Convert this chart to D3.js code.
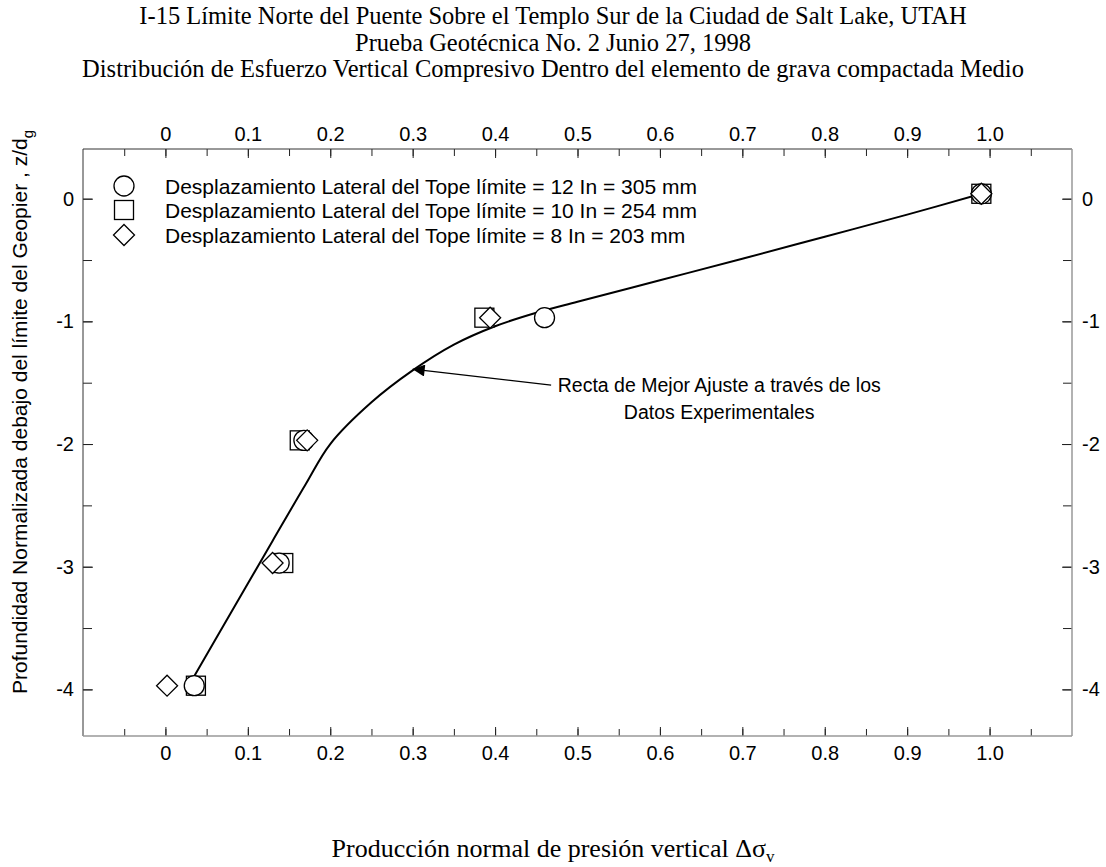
<!DOCTYPE html>
<html>
<head>
<meta charset="utf-8">
<script src="https://cdn.jsdelivr.net/npm/d3@7"></script>
<style>
  html, body { margin: 0; padding: 0; background: #fff; }
  svg { display: block; }
</style>
</head>
<body>
<svg id="chart" width="1106" height="867"></svg>
<script>
// ---- data ----
const titleLines = [
  "I-15 Límite Norte del Puente Sobre el Templo Sur de la Ciudad de Salt Lake, UTAH",
  "Prueba Geotécnica No. 2 Junio 27, 1998",
  "Distribución de Esfuerzo Vertical Compresivo Dentro del elemento de grava compactada Medio"
];
const depthY = [0.04, -0.97, -1.97, -2.97, -3.97];
const circleX = [0.99, 0.46, 0.168, 0.138, 0.035];   // 12 In = 305 mm
const squareX = [0.99, 0.387, 0.163, 0.143, 0.037];  // 10 In = 254 mm
const diamondX = [0.99, 0.394, 0.172, 0.13, 0.002];  // 8 In = 203 mm
const legendLabels = [
  "Desplazamiento Lateral del Tope límite = 12 In = 305 mm",
  "Desplazamiento Lateral del Tope límite = 10 In = 254 mm",
  "Desplazamiento Lateral del Tope límite = 8 In = 203 mm"
];
const fitX = [0.03, 0.08, 0.13, 0.17, 0.2, 0.25, 0.3, 0.35, 0.4, 0.45, 0.5, 0.6, 0.7, 0.8, 0.9, 0.99];
const fitY = [-3.95, -3.37, -2.79, -2.33, -2.0, -1.66, -1.40, -1.19, -1.04, -0.93, -0.84, -0.665, -0.49, -0.31, -0.13, 0.04];
const xTicks = [0, 0.1, 0.2, 0.3, 0.4, 0.5, 0.6, 0.7, 0.8, 0.9, 1.0];
const xTickLabels = ["0", "0.1", "0.2", "0.3", "0.4", "0.5", "0.6", "0.7", "0.8", "0.9", "1.0"];
const yTicks = [0, -1, -2, -3, -4];
const yTickLabels = ["0", "-1", "-2", "-3", "-4"];
const annotationLines = ["Recta de Mejor Ajuste a través de los", "Datos Experimentales"];
const arrowTip = [0.30, -1.39];
const arrowTail = [0.468, -1.52];
const annotationPos = [0.672, -1.52];

// ---- layout ----
const svg = d3.select("#chart");
const L = 83, R = 1072, T = 149, B = 736;
const x = d3.scaleLinear().domain([-0.1, 1.1]).range([L, R]);
const y = d3.scaleLinear().domain([-4.38, 0.405]).range([B, T]);
const sans = "Arial, 'Liberation Sans', Helvetica, sans-serif";
const serif = "'Times New Roman', 'Liberation Serif', Times, serif";

// title
svg.append("g").selectAll("text").data(titleLines).join("text")
  .attr("x", 553).attr("y", (d, i) => 24 + i * 26.5)
  .attr("text-anchor", "middle")
  .style("font-family", serif).style("font-size", "24.5px").attr("fill", "#000")
  .text(d => d);

// axes
const minorX = d3.range(-0.05, 1.1, 0.05).map(v => +v.toFixed(2));
const minorY = d3.range(0, -4.5, -0.5).map(v => +v.toFixed(1));

function styleAxis(g) {
  g.select(".domain").remove();
  g.selectAll("text").style("font-family", sans).style("font-size", "20px").attr("fill", "#000");
  g.selectAll("line").attr("stroke", "#222").attr("stroke-width", 1);
}
// minor ticks
svg.append("g").attr("transform", `translate(0,${B})`)
  .call(d3.axisBottom(x).tickValues(minorX).tickSize(-7).tickFormat(""))
  .call(styleAxis);
svg.append("g").attr("transform", `translate(0,${T})`)
  .call(d3.axisTop(x).tickValues(minorX).tickSize(-7).tickFormat(""))
  .call(styleAxis);
svg.append("g").attr("transform", `translate(${L},0)`)
  .call(d3.axisLeft(y).tickValues(minorY).tickSize(-9).tickFormat(""))
  .call(styleAxis);
svg.append("g").attr("transform", `translate(${R},0)`)
  .call(d3.axisRight(y).tickValues(minorY).tickSize(-9).tickFormat(""))
  .call(styleAxis);
// major ticks with labels
svg.append("g").attr("transform", `translate(0,${B})`)
  .call(d3.axisBottom(x).tickValues(xTicks).tickSize(-9).tickPadding(10)
    .tickFormat((d, i) => xTickLabels[i]))
  .call(styleAxis);
svg.append("g").attr("transform", `translate(0,${T})`)
  .call(d3.axisTop(x).tickValues(xTicks).tickSize(-9).tickPadding(8)
    .tickFormat((d, i) => xTickLabels[i]))
  .call(styleAxis);
svg.append("g").attr("transform", `translate(${L},0)`)
  .call(d3.axisLeft(y).tickValues(yTicks).tickSize(-10).tickPadding(9)
    .tickFormat((d, i) => yTickLabels[i]))
  .call(styleAxis);
svg.append("g").attr("transform", `translate(${R},0)`)
  .call(d3.axisRight(y).tickValues(yTicks).tickSize(-10).tickPadding(10)
    .tickFormat((d, i) => yTickLabels[i]))
  .call(styleAxis);

// frame
svg.append("line").attr("x1", L).attr("x2", R).attr("y1", T).attr("y2", T).attr("stroke", "#333");
svg.append("line").attr("x1", L).attr("x2", L).attr("y1", T).attr("y2", B).attr("stroke", "#333");
svg.append("line").attr("x1", L).attr("x2", R).attr("y1", B).attr("y2", B).attr("stroke", "#999").attr("stroke-width", 1.5);
svg.append("line").attr("x1", R).attr("x2", R).attr("y1", T).attr("y2", B).attr("stroke", "#999").attr("stroke-width", 1.5);

// fit curve
const fit = fitX.map((v, i) => [v, fitY[i]]);
svg.append("path").datum(fit)
  .attr("d", d3.line().x(d => x(d[0])).y(d => y(d[1])).curve(d3.curveCatmullRom.alpha(0.5)))
  .attr("fill", "none").attr("stroke", "#000").attr("stroke-width", 2);

// markers
const symSquare = (g, cx, cy) => g.append("rect").attr("x", cx - 9.5).attr("y", cy - 9.5)
  .attr("width", 19).attr("height", 19);
const symCircle = (g, cx, cy) => g.append("circle").attr("cx", cx).attr("cy", cy).attr("r", 10);
const symDiamond = (g, cx, cy) => g.append("path")
  .attr("d", `M${cx},${cy - 10.5}L${cx + 10.5},${cy}L${cx},${cy + 10.5}L${cx - 10.5},${cy}Z`);

const marks = svg.append("g").attr("fill", "#fff").attr("stroke", "#000").attr("stroke-width", 1.3);
squareX.forEach((v, i) => symSquare(marks, x(v), y(depthY[i])));
circleX.forEach((v, i) => symCircle(marks, x(v), y(depthY[i])));
diamondX.forEach((v, i) => symDiamond(marks, x(v), y(depthY[i])));

// legend
const leg = svg.append("g");
const legY = [186, 210, 235];
const lm = leg.append("g").attr("fill", "#fff").attr("stroke", "#000").attr("stroke-width", 1.3);
symCircle(lm, 124, legY[0]);
symSquare(lm, 124, legY[1]);
symDiamond(lm, 124, legY[2]);
leg.selectAll("text").data(legendLabels).join("text")
  .attr("x", 165).attr("y", (d, i) => legY[i] + 7.5)
  .style("font-family", sans).style("font-size", "21px").attr("fill", "#000")
  .text(d => d);

// annotation arrow
const defs = svg.append("defs");
defs.append("marker").attr("id", "arr").attr("viewBox", "0 0 10 10")
  .attr("refX", 10).attr("refY", 5).attr("markerWidth", 20).attr("markerHeight", 12)
  .attr("markerUnits", "userSpaceOnUse").attr("orient", "auto")
  .append("path").attr("d", "M0,0L10,5L0,10Z").attr("fill", "#000");
svg.append("line")
  .attr("x1", x(arrowTail[0])).attr("y1", y(arrowTail[1]))
  .attr("x2", x(arrowTip[0])).attr("y2", y(arrowTip[1]))
  .attr("stroke", "#000").attr("stroke-width", 1.2).attr("marker-end", "url(#arr)");
svg.append("g").selectAll("text").data(annotationLines).join("text")
  .attr("x", x(annotationPos[0])).attr("y", (d, i) => y(annotationPos[1]) + 7 + i * 27)
  .attr("text-anchor", "middle")
  .style("font-family", sans).style("font-size", "19.5px").attr("fill", "#000")
  .text(d => d);

// y axis label
const yl = svg.append("text")
  .attr("transform", `translate(27,412) rotate(-90)`)
  .attr("text-anchor", "middle")
  .style("font-family", sans).style("font-size", "21px").attr("fill", "#000");
yl.append("tspan").text("Profundidad Normalizada debajo del límite del Geopier , z/d");
yl.append("tspan").attr("dy", 6).style("font-size", "15px").text("g");

// x axis label
const xl = svg.append("text")
  .attr("x", 553).attr("y", 857).attr("text-anchor", "middle")
  .style("font-family", serif).style("font-size", "26px").attr("fill", "#000");
xl.append("tspan").text("Producción normal de presión vertical Δσ");
xl.append("tspan").attr("dy", 5).style("font-size", "17px").text("v");
</script>
</body>
</html>
